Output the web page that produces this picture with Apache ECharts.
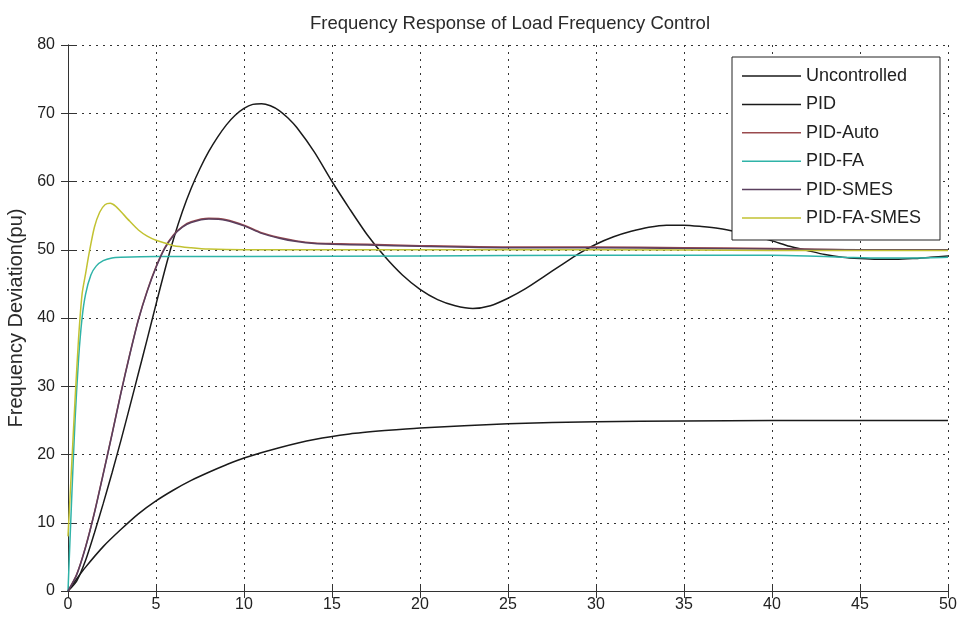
<!DOCTYPE html>
<html>
<head>
<meta charset="utf-8">
<script src="https://cdn.jsdelivr.net/npm/echarts@6/dist/echarts.min.js"></script>
<style>
html,body{margin:0;padding:0;background:#fff;}
#chart{width:959px;height:624px;}
</style>
</head>
<body>
<div id="chart"></div>
<script>
const seriesNames = ['Uncontrolled','PID','PID-Auto','PID-FA','PID-SMES','PID-FA-SMES'];
const xTicks = [0,5,10,15,20,25,30,35,40,45,50];
const yTicks = [0,10,20,30,40,50,60,70,80];

const tUnc = [0,0.5,1,2,3,4,5,6,7,8,9,10,12,14,16,18,20,25,30,35,40,45,50];
const vUnc = [0,1.8,3.5,6.5,9.0,11.3,13.2,14.8,16.2,17.4,18.5,19.5,21.0,22.2,23.0,23.5,23.9,24.5,24.8,24.9,25.0,25.0,25.0];

const tPid = [0,0.5,1,1.5,2,2.5,3,3.5,4,4.5,5,5.5,6,6.5,7,7.5,8,8.5,9,9.5,10,10.5,11,11.5,12,12.5,13,14,15,16,17,18,19,20,21,22,23,24,25,26,27,28,29,30,31,32,33,34,35,36,37,38,39,40,41,42,43,44,45,46,47,48,49,50];
const vPid = [0,1.5,4.5,8.5,12.8,17.3,22.0,26.9,31.9,36.9,42.0,47.0,51.6,55.6,59.0,61.9,64.4,66.5,68.3,69.7,70.7,71.3,71.4,71.1,70.4,69.3,67.9,64.3,60,56,52.2,49.0,46.3,44.2,42.7,41.8,41.4,41.8,42.9,44.3,46,47.7,49.4,50.8,51.9,52.7,53.3,53.6,53.6,53.4,53.1,52.6,52.0,51.3,50.5,49.9,49.3,48.9,48.7,48.6,48.6,48.7,48.9,49.1];

const tAuto = [0,0.5,1,1.5,2,2.5,3,3.5,4,4.5,5,5.5,6,6.5,7,8,9,10,11,12,13,14,15,17,20,25,30,35,40,45,50];
const vAuto = [0,2.5,6.5,11.5,17.2,23,29.0,34.6,39.8,44,47.5,50.3,52.2,53.4,54.1,54.6,54.4,53.6,52.5,51.8,51.3,51.0,50.9,50.8,50.6,50.4,50.4,50.3,50.2,50.0,50.0];

const tFa = [0,0.2,0.4,0.6,0.8,1.0,1.3,1.6,2,2.5,3,5,10,20,30,40,42,44,46,48,50];
const vFa = [0,13,25,34,40,43.5,46.3,47.6,48.4,48.8,48.9,49.0,49.0,49.1,49.2,49.2,49.1,48.9,48.8,48.8,48.9];

const tSmes = [0,0.5,1,1.5,2,2.5,3,3.5,4,4.5,5,5.5,6,6.5,7,8,9,10,11,12,13,14,15,17,20,25,30,35,40,45,50];
const vSmes = [0,2.4,6.4,11.4,17.1,22.9,28.9,34.5,39.7,43.9,47.4,50.2,52.1,53.3,54.0,54.5,54.3,53.5,52.4,51.7,51.2,50.9,50.8,50.7,50.5,50.3,50.3,50.2,50.1,50.0,50.0];

const tFaSmes = [0,0.2,0.4,0.6,0.8,1.0,1.2,1.5,1.8,2.1,2.4,2.7,3.0,3.5,4,4.5,5,5.5,6,7,8,10,15,20,30,40,50];
const vFaSmes = [8,18,28,37,43.5,46.5,49.5,53.3,55.5,56.6,56.8,56.4,55.6,54.2,52.9,52.0,51.4,51.0,50.6,50.3,50.1,50.0,50.0,50.0,50.0,49.9,49.9];

const colors = ['#1a1a1a','#1a1a1a','#9a4a4e','#2fb3a8','#5a3f5e','#c2c232'];

function pairs(t, v){ return t.map((x,i)=>[x, v[i]]); }
const dataSets = [pairs(tUnc,vUnc), pairs(tPid,vPid), pairs(tAuto,vAuto), pairs(tFa,vFa), pairs(tSmes,vSmes), pairs(tFaSmes,vFaSmes)];

const FONT = '"Liberation Sans",Arial,sans-serif';

const chart = echarts.init(document.getElementById('chart'), null, {renderer:'canvas'});

const gridLine = {show:true, lineStyle:{color:'#333', type:[2,5], width:1}};
const baseAxisLine = {show:true, lineStyle:{color:'#333', width:1}};
const tick = {show:true, inside:true, length:7, lineStyle:{color:'#333'}};

chart.setOption({
  backgroundColor:'#fff',
  animation:false,
  title:{
    text:'Frequency Response of Load Frequency Control',
    left:505, textAlign:'center', top:9,
    textStyle:{fontFamily:FONT, fontSize:18.5, fontWeight:'normal', color:'#2a2a2a'}
  },
  grid:{left:68, right:11, top:45, bottom:33, containLabel:false, outerBoundsMode:'none'},
  legend:{
    data:seriesNames,
    orient:'vertical',
    left:732, top:57,
    backgroundColor:'#fff',
    borderColor:'#222', borderWidth:1,
    padding:[9,19,12,10],
    icon:'rect',
    itemWidth:59, itemHeight:1.5, itemGap:8.4,
    textStyle:{fontFamily:FONT, fontSize:18, color:'#222', lineHeight:20},
    selectedMode:false
  },
  xAxis:[{
    type:'value', min:0, max:50, interval:5,
    axisLine:baseAxisLine, axisTick:tick,
    axisLabel:{fontFamily:FONT, fontSize:16, color:'#222', margin:6,
      formatter:v=>xTicks.includes(v)?String(v):''},
    splitLine:gridLine,
    name:'Time (sec)', nameLocation:'middle', nameGap:36,
    nameTextStyle:{fontFamily:FONT, fontSize:16, color:'#555'}
  },{
    type:'value', min:0, max:50, interval:5, position:'top',
    axisLine:baseAxisLine, axisTick:tick,
    axisLabel:{show:false}, splitLine:{show:false}
  }],
  yAxis:[{
    type:'value', min:0, max:80, interval:10,
    axisLine:baseAxisLine, axisTick:tick,
    axisLabel:{fontFamily:FONT, fontSize:16, color:'#222', margin:13,
      formatter:v=>yTicks.includes(v)?String(v):''},
    splitLine:gridLine,
    name:'Frequency Deviation(pu)', nameLocation:'middle', nameGap:29,
    nameTextStyle:{fontFamily:FONT, fontSize:20, color:'#2a2a2a'}
  },{
    type:'value', min:0, max:80, interval:10, position:'right',
    axisLine:baseAxisLine, axisTick:tick,
    axisLabel:{show:false}, splitLine:{show:false}
  }],
  series: seriesNames.map((n,i)=>({
    name:n, type:'line', data:dataSets[i], xAxisIndex:0, yAxisIndex:0,
    symbol:'none', smooth:0.25,
    lineStyle:{color:colors[i], width:1.5},
    itemStyle:{color:colors[i]},
    z:2+i
  }))
});
</script>
</body>
</html>
